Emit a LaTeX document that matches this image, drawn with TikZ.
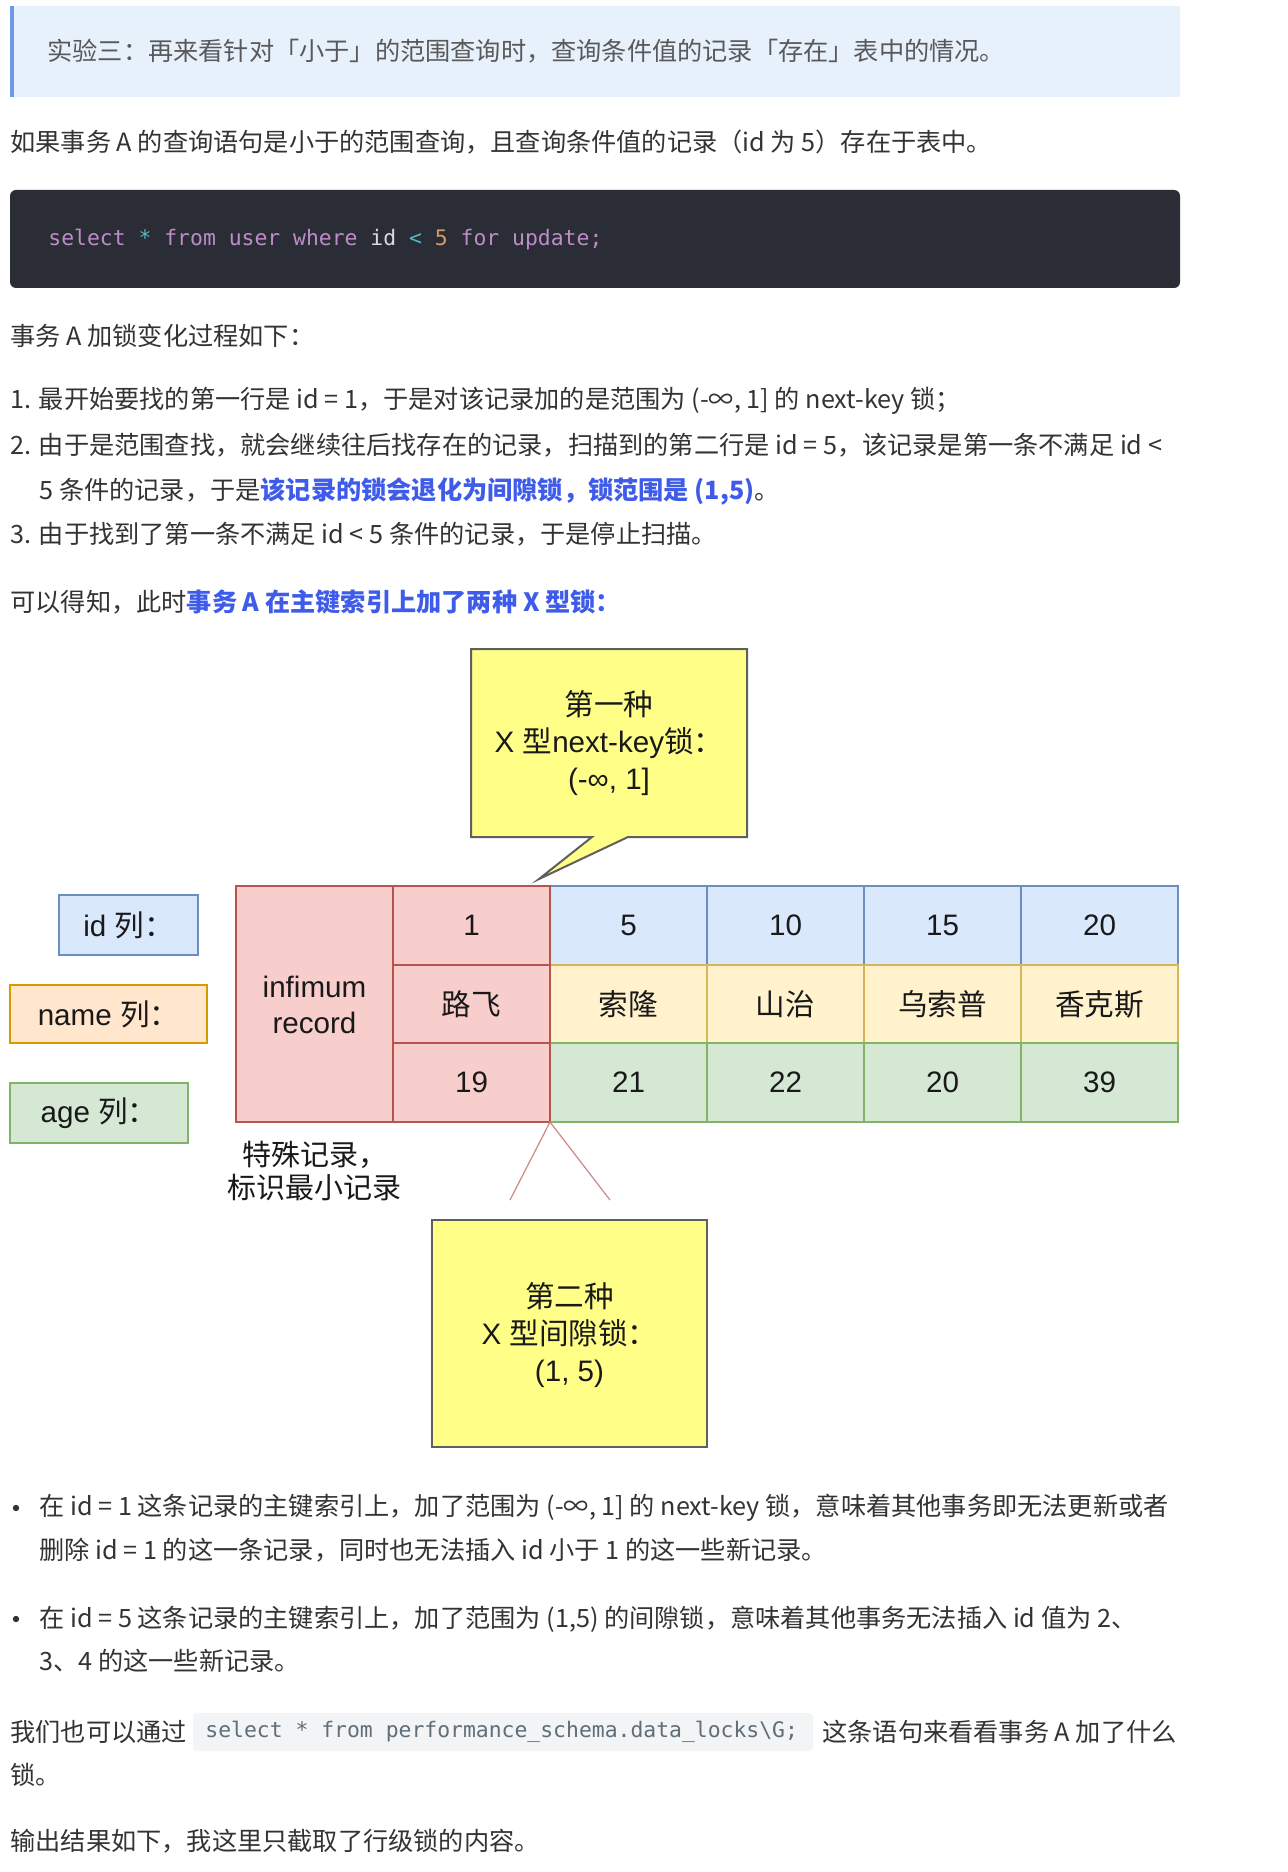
\documentclass[tikz,border=0pt]{standalone}
\usepackage{fontspec}
\setmainfont{Noto Sans CJK SC}
\setmonofont{DejaVu Sans Mono}
\newfontfamily\latinfont{Liberation Sans}
\usetikzlibrary{calc}

\definecolor{quotebg}{HTML}{E7F1FC}
\definecolor{quotebar}{HTML}{7098E6}
\definecolor{codebg}{HTML}{2A2D35}
\definecolor{bodytext}{HTML}{333333}
\definecolor{quotetext}{HTML}{595959}
\definecolor{linkblue}{HTML}{3E5BEA}
\definecolor{kw}{HTML}{BE8CC8}
\definecolor{op}{HTML}{56B6C2}
\definecolor{num}{HTML}{D19A66}
\definecolor{plain}{HTML}{D7DAE0}
\definecolor{inlinebg}{HTML}{F3F4F5}
\definecolor{inlinetext}{HTML}{5F6E78}
\definecolor{redfill}{HTML}{F8CECC}
\definecolor{redline}{HTML}{B85450}
\definecolor{bluefill}{HTML}{DAE8FC}
\definecolor{blueline}{HTML}{6C8EBF}
\definecolor{yelfill}{HTML}{FFF2CC}
\definecolor{yelline}{HTML}{D6B656}
\definecolor{orafill}{HTML}{FFE6CC}
\definecolor{oraline}{HTML}{D79B00}
\definecolor{grnfill}{HTML}{D5E8D4}
\definecolor{grnline}{HTML}{82B366}
\definecolor{notefill}{HTML}{FFFF88}
\definecolor{noteline}{HTML}{5F5F5F}

\tikzset{
    para/.style={anchor=west, inner sep=0pt, text=bodytext, font=\fontsize{12.6}{15}\selectfont},
    sqlcode/.style={anchor=west, inner sep=0pt, font=\ttfamily\fontsize{10.7}{13}\selectfont},
    celltext/.style={inner sep=0pt, text=black!90, align=center, font=\fontsize{14.8}{18}\selectfont},
    notetext/.style={inner sep=0pt, text=black!90, align=center, font=\fontsize{14.8}{18.5}\selectfont},
    redcell/.style={draw=redline, fill=redfill, line width=0.65pt},
    idcell/.style={draw=blueline, fill=bluefill, line width=0.65pt},
    namecell/.style={draw=yelline, fill=yelfill, line width=0.65pt},
    labelname/.style={draw=oraline, fill=orafill, line width=0.8pt},
    agecell/.style={draw=grnline, fill=grnfill, line width=0.65pt},
    note/.style={draw=noteline, fill=notefill, line width=1pt},
    gapline/.style={draw=redline!70, line width=0.6pt},
    bullet/.style={circle, fill=bodytext, inner sep=0pt, minimum size=3.2pt}
}

\newcommand{\tline}[3]{
    \node[para] (#1) at (#2) {#3};
}
\newcommand{\cell}[4]{
    \draw[#4] (#2) rectangle ++(157, 79);
    \node[celltext] (#1) at ($(#2) + (78.5, 39.5)$) {#3};
}
\newcommand{\bluebold}[1]{\textcolor{linkblue}{\bfseries #1}}
\newcommand{\lat}[1]{{\latinfont #1}}

\begin{document}
\begin{tikzpicture}[x=0.5pt, y=-0.5pt]
    \fill[white] (0,0) rectangle (1288,1872);
    \useasboundingbox (0,0) rectangle (1288,1872);

    % text above the picture
    \fill[quotebg] (10,6) rectangle (1180,97);
    \fill[quotebar] (10,6) rectangle (14,97);
    \node[para, text=quotetext] (quote) at (47,51) {实验三：再来看针对「小于」的范围查询时，查询条件值的记录「存在」表中的情况。};
    \tline{intro}{10,142}{如果事务 A 的查询语句是小于的范围查询，且查询条件值的记录（id 为 5）存在于表中。}
    \fill[codebg, rounded corners=3pt] (10,190) rectangle (1180,288);
    \node[sqlcode] (sql) at (48,240) {\color{kw}select \color{op}* \color{kw}from user where \color{plain}id \color{op}< \color{num}5 \color{kw}for update;};
    \tline{steps}{10,336}{事务 A 加锁变化过程如下：}
    \tline{step1}{10,401}{1. 最开始要找的第一行是 id = 1，于是对该记录加的是范围为 (-∞, 1] 的 next-key 锁；}
    \tline{step2}{10,445}{2. 由于是范围查找，就会继续往后找存在的记录，扫描到的第二行是 id = 5，该记录是第一条不满足 id <}
    \tline{step2b}{39,491}{5 条件的记录，于是\bluebold{该记录的锁会退化为间隙锁，锁范围是 (1,5)}。}
    \tline{step3}{10,534}{3. 由于找到了第一条不满足 id < 5 条件的记录，于是停止扫描。}
    \tline{result}{10,602}{可以得知，此时\bluebold{事务 A 在主键索引上加了两种 X 型锁：}}

    % first lock
    \draw[note] (471,649) -- (747,649) -- (747,837) -- (628,837) -- (539,879) -- (592,837) -- (471,837) -- cycle;
    \node[notetext] (nextkey) at (609,743) {第一种\\\lat{X }型\lat{next-key}锁：\\\lat{(-∞, 1]}};

    % column labels
    \draw[idcell] (59,895) rectangle (198,955);
    \node[celltext] (idcol) at (128.5,925) {\lat{id }列：};
    \draw[labelname] (10,985) rectangle (207,1043);
    \node[celltext] (namecol) at (108.5,1014) {\lat{name }列：};
    \draw[agecell] (10,1083) rectangle (188,1143);
    \node[celltext] (agecol) at (99,1113) {\lat{age }列：};

    % records
    \cell{id5}{550,886}{\lat{5}}{idcell}
    \cell{name5}{550,965}{索隆}{namecell}
    \cell{age5}{550,1043}{\lat{21}}{agecell}
    \cell{id10}{707,886}{\lat{10}}{idcell}
    \cell{name10}{707,965}{山治}{namecell}
    \cell{age10}{707,1043}{\lat{22}}{agecell}
    \cell{id15}{864,886}{\lat{15}}{idcell}
    \cell{name15}{864,965}{乌索普}{namecell}
    \cell{age15}{864,1043}{\lat{20}}{agecell}
    \cell{id20}{1021,886}{\lat{20}}{idcell}
    \cell{name20}{1021,965}{香克斯}{namecell}
    \cell{age20}{1021,1043}{\lat{39}}{agecell}
    \draw[redcell] (236,886) rectangle (393,1122);
    \node[celltext] (inf) at (314.5,1005) {\lat{infimum}\\\lat{record}};
    \cell{id1}{393,886}{\lat{1}}{redcell}
    \cell{name1}{393,965}{路飞}{redcell}
    \cell{age1}{393,1043}{\lat{19}}{redcell}
    \node[celltext, font=\fontsize{14.5}{16.5}\selectfont] (infnote) at (314.5,1171) {特殊记录，\\标识最小记录};

    % second lock
    \coordinate (gapc) at (550,1122);
    \coordinate (gapl) at (510,1200);
    \coordinate (gapr) at (610,1200);
    \draw[gapline] (gapl) -- (gapc) -- (gapr);
    \draw[note] (432,1220) rectangle (707,1447);
    \node[notetext] (gaplock) at (569.5,1335) {第二种\\\lat{X }型间隙锁：\\\lat{(1, 5)}};

    % text below the picture
    \node[bullet] (dot1) at (16,1508) {};
    \tline{bul1}{39,1508}{在 id = 1 这条记录的主键索引上，加了范围为 (-∞, 1] 的 next-key 锁，意味着其他事务即无法更新或者}
    \tline{bul1b}{39,1550}{删除 id = 1 的这一条记录，同时也无法插入 id 小于 1 的这一些新记录。}
    \node[bullet] (dot2) at (16,1619) {};
    \tline{bul2}{39,1619}{在 id = 5 这条记录的主键索引上，加了范围为 (1,5) 的间隙锁，意味着其他事务无法插入 id 值为 2、}
    \tline{bul2b}{39,1661}{3、4 的这一些新记录。}
    \tline{via}{10,1732}{我们也可以通过}
    \fill[inlinebg, rounded corners=2pt] (193,1713) rectangle (813,1751);
    \node[sqlcode, text=inlinetext] (locksql) at (205,1732) {select * from performance\_schema.data\_locks\textbackslash G;};
    \tline{via2}{822,1732}{这条语句来看看事务 A 加了什么}
    \tline{lock}{10,1775}{锁。}
    \tline{output}{10,1841}{输出结果如下，我这里只截取了行级锁的内容。}
\end{tikzpicture}
\end{document}
